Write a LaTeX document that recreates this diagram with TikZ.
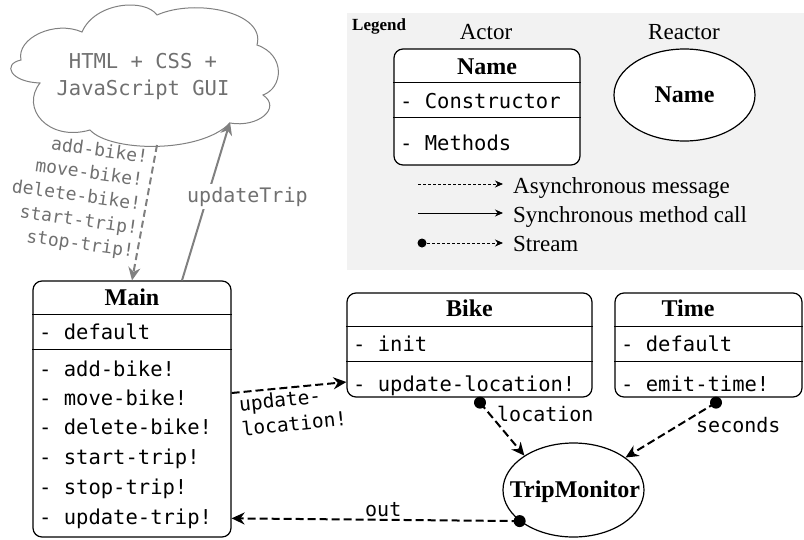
\documentclass[tikz,border=0pt]{standalone}
\usepackage{fontspec}
\setmainfont{Liberation Serif}
\setmonofont{DejaVu Sans Mono}
\usetikzlibrary{arrows.meta,shapes.geometric}
\definecolor{lgbg}{RGB}{242,242,242}
\definecolor{gl}{RGB}{128,128,128}
\definecolor{gt}{RGB}{112,112,112}
\begin{document}
\begin{tikzpicture}[x=1pt,y=-1pt,
  box/.style={draw, rounded corners=9pt, line width=1.2pt, inner sep=0pt, fill=white},
  sepline/.style={line width=1.2pt},
  mono/.style={font=\fontsize{20.5}{24}\ttfamily, inner sep=0pt, anchor=base west},
  lbl/.style={font=\fontsize{20}{24}\ttfamily, inner sep=0pt, anchor=base west},
  glbl/.style={font=\fontsize{18}{22}\ttfamily, text=gt, inner sep=0pt, text height=12pt, text depth=3pt, anchor=east, rotate=-8},
  ttl/.style={font=\fontsize{24}{28}\selectfont\bfseries, inner sep=0pt, anchor=base},
  ser/.style={font=\fontsize{23}{27}\selectfont, inner sep=0pt, anchor=base},
  serw/.style={font=\fontsize{23}{27}\selectfont, inner sep=0pt, anchor=base west},
  reactor/.style={draw, ellipse, line width=1.2pt, inner sep=0pt, fill=white},
  async/.style={line width=2pt, dash pattern=on 8pt off 4pt, -{Stealth[length=13pt,width=12pt]}},
  gasync/.style={draw=gl, line width=2pt, dash pattern=on 7pt off 4pt, -{Stealth[length=13pt,width=12pt]}},
  gsync/.style={draw=gl, line width=2pt, -{Stealth[length=13pt,width=12pt]}},
  lasync/.style={line width=0.9pt, dash pattern=on 3pt off 2pt, -{Stealth[length=8pt,width=7pt]}},
  lsync/.style={line width=0.9pt, -{Stealth[length=8pt,width=7pt]}},
  dot/.style={fill=black}
]
\useasboundingbox (0,0) rectangle (804,539);

% ---------- legend ----------
\fill[lgbg] (347,13) rectangle (804,270);
\node[font=\fontsize{17}{20}\selectfont\bfseries, inner sep=0pt, anchor=base west] (legend) at (352,30) {Legend};
\node[ser] (actorlbl) at (486,39) {Actor};
\node[ser] (reactorlbl) at (684,39) {Reactor};

\node[box, minimum width=186pt, minimum height=116pt] (lactor) at (487,107) {};
\draw[sepline] ([yshift=-34pt]lactor.north west) -- ([yshift=-34pt]lactor.north east);
\draw[sepline] ([yshift=-69pt]lactor.north west) -- ([yshift=-69pt]lactor.north east);
\node[ttl] (lname) at (487,74) {Name};
\node[mono] (lcons) at (400,108) {- Constructor};
\node[mono] (lmeth) at (400,150) {- Methods};

\node[reactor, minimum width=141pt, minimum height=92pt] (lreactor) at (684.5,95) {};
\node[ttl] (lrname) at (684.5,102) {Name};

\coordinate (la1) at (418,184); \coordinate (lb1) at (503,184);
\coordinate (la2) at (418,213); \coordinate (lb2) at (503,213);
\coordinate (la3) at (422,243); \coordinate (lb3) at (503,243);
\draw[lasync] (la1) -- (lb1);
\draw[lsync] (la2) -- (lb2);
\draw[lasync] (la3) -- (lb3);
\fill (la3) circle[radius=4.5pt];
\node[serw] (lt1) at (513,193) {Asynchronous message};
\node[serw] (lt2) at (513,222) {Synchronous method call};
\node[serw] (lt3) at (513,251) {Stream};

% ---------- cloud ----------
\draw[gl, line width=1pt, fill=white]
  (21,60) .. controls (16,38) and (55,20) .. (82,32)
  .. controls (95,2) and (145,-2) .. (157,15)
  .. controls (195,-2) and (266,12) .. (257,45)
  .. controls (286,55) and (283,88) .. (263,95)
  .. controls (282,108) and (258,128) .. (230,123)
  .. controls (200,154) and (110,152) .. (90,130)
  .. controls (48,142) and (20,108) .. (40,83)
  .. controls (10,82) and (2,64) .. (21,60) -- cycle;
\node[font=\fontsize{20.5}{24}\ttfamily, text=gt, inner sep=0pt, anchor=base] (gui1) at (143,68) {HTML + CSS +};
\node[font=\fontsize{20.5}{24}\ttfamily, text=gt, inner sep=0pt, anchor=base] (gui2) at (143,95) {JavaScript GUI};
\coordinate (cdash) at (157,145);
\coordinate (ctip) at (230,122);

% ---------- actors ----------
\node[box, minimum width=198pt, minimum height=256pt] (main) at (132,409) {};
\draw[sepline] ([yshift=-34pt]main.north west) -- ([yshift=-34pt]main.north east);
\draw[sepline] ([yshift=-69pt]main.north west) -- ([yshift=-69pt]main.north east);
\node[ttl] (mainname) at (132,305) {Main};
\node[mono] (mdef) at (39,339) {- default};
\node[mono] (madd) at (39,376) {- add-bike!};
\node[mono] (mmove) at (39,405) {- move-bike!};
\node[mono] (mdel) at (39,434) {- delete-bike!};
\node[mono] (mstart) at (39,464) {- start-trip!};
\node[mono] (mstop) at (39,494) {- stop-trip!};
\node[mono] (mupd) at (39,524) {- update-trip!};

\node[box, minimum width=245pt, minimum height=104pt] (bike) at (469.5,345) {};
\draw[sepline] ([yshift=-34pt]bike.north west) -- ([yshift=-34pt]bike.north east);
\draw[sepline] ([yshift=-69pt]bike.north west) -- ([yshift=-69pt]bike.north east);
\node[ttl] (bikename) at (469.5,316) {Bike};
\node[mono] (binit) at (353,351) {- init};
\node[mono] (bupd) at (353,391) {- update-location!};

\node[box, minimum width=187pt, minimum height=104pt] (time) at (708.5,345) {};
\draw[sepline] ([yshift=-34pt]time.north west) -- ([yshift=-34pt]time.north east);
\draw[sepline] ([yshift=-69pt]time.north west) -- ([yshift=-69pt]time.north east);
\node[ttl] (timename) at (688,316) {Time};
\node[mono] (tdef) at (621,351) {- default};
\node[mono] (temit) at (621,391) {- emit-time!};

\node[reactor, minimum width=141pt, minimum height=94pt] (trip) at (573.5,490) {};
\node[ttl] (tripname) at (575,497) {TripMonitor};

% ---------- gray connectors ----------
\draw[gasync] (cdash) -- (main.north);
\draw[gsync] ([xshift=50pt]main.north) -- (ctip);
\node[font=\fontsize{20}{24}\ttfamily, text=gt, fill=white, inner xsep=1pt, inner ysep=3pt, anchor=base west] (updtrip) at (186,202) {updateTrip};
\node[glbl] (g1) at (148,159) {add-bike!};
\node[glbl] (g2) at (143,182) {move-bike!};
\node[glbl] (g3) at (141,206) {delete-bike!};
\node[glbl] (g4) at (138,230) {start-trip!};
\node[glbl] (g5) at (134,253) {stop-trip!};

% ---------- black connectors ----------
\coordinate (ulA) at (main.east |- 0,393);
\coordinate (ulB) at (bike.west |- 0,382);
\draw[async] (ulA) -- (ulB);
\node[font=\fontsize{19.5}{25}\ttfamily, inner sep=0pt, align=left, rotate=6] (ullbl) at (293,411) {update-\\location!};

\coordinate (locdot) at ([xshift=10.5pt,yshift=-5pt]bike.south);
\draw[async] (locdot) -- (trip.145);
\fill[dot] (locdot) circle[radius=6pt];
\node[lbl] (loclbl) at (497,421) {location};

\coordinate (secdot) at ([xshift=7.5pt,yshift=-5pt]time.south);
\draw[async] (secdot) -- (trip.32);
\fill[dot] (secdot) circle[radius=6pt];
\node[lbl] (seclbl) at (696,432) {seconds};

\coordinate (outdot) at (trip.210);
\draw[async] (outdot) -- (main.east |- mupd);
\fill[dot] (outdot) circle[radius=6pt];
\node[lbl] (outlbl) at (365,516) {out};
\end{tikzpicture}
\end{document}
